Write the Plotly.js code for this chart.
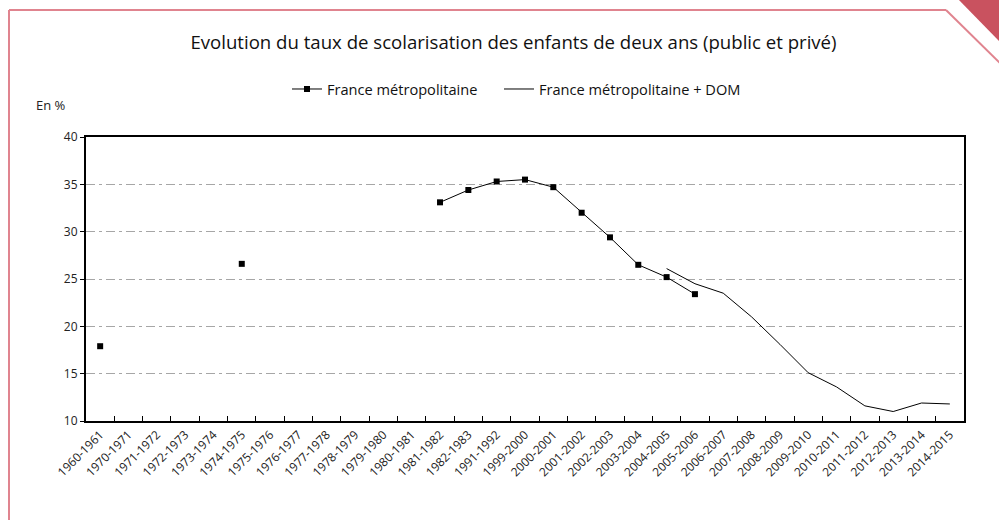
<!DOCTYPE html>
<html><head><meta charset="utf-8">
<script src="https://cdn.plot.ly/plotly-3.0.1.min.js"></script>
<style>html,body{margin:0;padding:0;background:#fff;}#chart{width:999px;height:520px;}</style>
</head><body><div id="chart"></div>
<script>
const categories = ["1960-1961","1970-1971","1971-1972","1972-1973","1973-1974","1974-1975","1975-1976","1976-1977","1977-1978","1978-1979","1979-1980","1980-1981","1981-1982","1982-1983","1991-1992","1999-2000","2000-2001","2001-2002","2002-2003","2003-2004","2004-2005","2005-2006","2006-2007","2007-2008","2008-2009","2009-2010","2010-2011","2011-2012","2012-2013","2013-2014","2014-2015"];
const metro = [17.9,null,null,null,null,26.6,null,null,null,null,null,null,33.1,34.4,35.3,35.5,34.7,32.0,29.4,26.5,25.2,23.4,null,null,null,null,null,null,null,null,null];
const metroDom = [null,null,null,null,null,null,null,null,null,null,null,null,null,null,null,null,null,null,null,null,26.1,24.5,23.5,21.0,18.1,15.1,13.6,11.6,11.0,11.9,11.8];
const seriesNames = ["France métropolitaine","France métropolitaine + DOM"];
const titleText = "Evolution du taux de scolarisation des enfants de deux ans (public et privé)";
const yUnit = "En %";

const FONT = "Open Sans, Noto Sans, sans-serif";
// pixel helpers for decorations (plot area: x 86..964, y 137..421)
const L=86, R=964, T=137, B=421;
const px = p => (p - L) / (R - L);
const py = q => (B - q) / (B - T);

const traces = [
  {x: categories, y: metro, name: seriesNames[0], type: "scatter", mode: "lines+markers", legend: "legend",
   line: {color: "#000", width: 1}, marker: {symbol: "square", size: 6, color: "#000"}, connectgaps: false},
  {x: categories, y: metroDom, name: seriesNames[1], type: "scatter", mode: "lines", legend: "legend2",
   line: {color: "#000", width: 1}, connectgaps: false}
];

const pink = "#e0848f", dark = "#c9525f";
const legFont = {family: FONT, size: 14.6, color: "#111"};
const layout = {
  width: 999, height: 520,
  margin: {l: L, r: 999 - R, t: T, b: 520 - B, pad: 0},
  paper_bgcolor: "#fff", plot_bgcolor: "#fff",
  font: {family: FONT, color: "#222", size: 12},
  title: {text: titleText, font: {family: FONT, size: 18.6, color: "#111"},
          xref: "paper", x: px(513.5), xanchor: "center", yref: "container", y: 1 - 42/520, yanchor: "middle"},
  showlegend: true,
  legend: {orientation: "h", x: px(287), xanchor: "left", y: py(89), yanchor: "middle",
           font: legFont, bgcolor: "rgba(0,0,0,0)"},
  legend2: {orientation: "h", x: px(499), xanchor: "left", y: py(89), yanchor: "middle",
           font: legFont, bgcolor: "rgba(0,0,0,0)"},
  xaxis: {type: "category", tickson: "boundaries", ticks: "inside", ticklen: 5, tickcolor: "#000", tickwidth: 1,
          tickangle: -45, tickfont: {family: FONT, size: 12, color: "#222"},
          showline: true, linecolor: "#000", linewidth: 2, mirror: true, showgrid: false,
          range: [-0.5, categories.length - 0.5], fixedrange: true},
  yaxis: {range: [10, 40], dtick: 5, ticks: "outside", ticklen: 4, tickcolor: "#000",
          tickfont: {family: FONT, size: 12, color: "#222"},
          showline: true, linecolor: "#000", linewidth: 2, mirror: true,
          showgrid: true, gridcolor: "#a6a6a6", gridwidth: 1, griddash: "9px,4px,3px,4px",
          zeroline: false, fixedrange: true},
  annotations: [
    {text: yUnit, xref: "paper", yref: "paper", x: px(34), y: py(105), xanchor: "left", yanchor: "middle",
     showarrow: false, font: {family: FONT, size: 13, color: "#222"}}
  ],
  shapes: [
    {type: "line", xref: "paper", yref: "paper", x0: px(9), x1: px(9), y0: py(10), y1: py(525), line: {color: pink, width: 2}},
    {type: "line", xref: "paper", yref: "paper", x0: px(9), x1: px(946), y0: py(10), y1: py(10), line: {color: pink, width: 2}},
    {type: "line", xref: "paper", yref: "paper", x0: px(946), x1: px(1002), y0: py(10), y1: py(65), line: {color: pink, width: 2}},
    {type: "path", xref: "paper", yref: "paper",
     path: `M ${px(957)} ${py(-2)} L ${px(1002)} ${py(-2)} L ${px(1002)} ${py(44)} Z`,
     fillcolor: dark, line: {width: 0}}
  ]
};
Plotly.newPlot("chart", traces, layout, {staticPlot: true, displayModeBar: false});
</script></body></html>
